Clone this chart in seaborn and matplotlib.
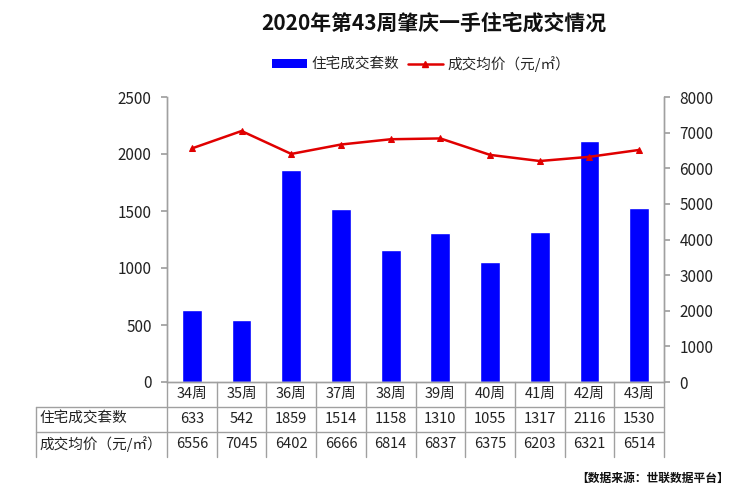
import numpy as np
import pandas as pd
import seaborn as sns
import matplotlib.pyplot as plt
import matplotlib.transforms as mtransforms
from matplotlib.patches import Patch
from matplotlib.lines import Line2D

weeks = ["34周", "35周", "36周", "37周", "38周", "39周", "40周", "41周", "42周", "43周"]
units = [633, 542, 1859, 1514, 1158, 1310, 1055, 1317, 2116, 1530]
prices = [6556, 7045, 6402, 6666, 6814, 6837, 6375, 6203, 6321, 6514]
row_labels = ["住宅成交套数", "成交均价（元/㎡）"]

sns.set_theme(style="white")
plt.rcParams['font.family'] = ['Noto Sans CJK SC', 'DejaVu Sans']

df = pd.DataFrame({"week": weeks, "units": units, "price": prices})
n = len(weeks)

fig = plt.figure(figsize=(7.41, 4.91), dpi=100)
W, H = 741, 491
ax = fig.add_axes([167 / W, 1 - 382 / H, (664 - 167) / W, (382 - 97) / H])

sns.barplot(data=df, x="week", y="units", color="#0000FF", saturation=1,
            width=0.4, ax=ax)
ax.set_ylim(0, 2500)
ax.set_xlim(-0.5, n - 0.5)
ax.set_yticks(range(0, 2501, 500))
ax.set_xlabel("")
ax.set_ylabel("")
ax.set_xticks(range(n))
ax.set_xticklabels([])
ax.tick_params(axis="x", length=0)
ax.tick_params(axis="y", left=True, length=4, color="#A0A0A0", labelsize=11,
               pad=7, labelcolor="#222222")

ax2 = ax.twinx()
sns.lineplot(x=np.arange(n), y=prices, ax=ax2, color="#E00000", lw=1.8,
             marker="^", markersize=5, markeredgecolor="#E00000")
ax2.set_ylim(0, 8000)
ax2.set_yticks(range(0, 8001, 1000))
ax2.set_xlim(-0.5, n - 0.5)
ax2.tick_params(axis="y", right=True, length=4, color="#A0A0A0", labelsize=11,
                pad=7, labelcolor="#222222")

for a in (ax, ax2):
    a.spines["top"].set_visible(False)
    for s in ["left", "right", "bottom"]:
        a.spines[s].set_color("#A0A0A0")
        a.spines[s].set_linewidth(1)

# data table below the axis
grid = "#A0A0A0"
blend = mtransforms.blended_transform_factory(ax.transData, ax.transAxes)
row_y = [-0.042, -0.13, -0.219]
line_y = [-0.0877, -0.1754]
bottom_y = -0.263
left_x = -0.2636

for i in range(n + 1):
    ax.plot([i - 0.5, i - 0.5], [0, bottom_y], transform=blend, color=grid,
            lw=1, clip_on=False)
for yy in line_y:
    ax.plot([left_x, 1], [yy, yy], transform=ax.transAxes, color=grid, lw=1,
            clip_on=False)
ax.plot([left_x, left_x], [line_y[0], bottom_y], transform=ax.transAxes,
        color=grid, lw=1, clip_on=False)

for i, w in enumerate(weeks):
    ax.text(i, row_y[0], w, transform=blend, ha="center", va="center",
            fontsize=10.5, color="#222222")
    ax.text(i, row_y[1], str(units[i]), transform=blend, ha="center",
            va="center", fontsize=10.5, color="#222222")
    ax.text(i, row_y[2], str(prices[i]), transform=blend, ha="center",
            va="center", fontsize=10.5, color="#222222")
for lab, yy in zip(row_labels, row_y[1:]):
    ax.text(left_x + 0.007, yy, lab, transform=ax.transAxes, ha="left",
            va="center", fontsize=10.5, color="#222222")

fig.text(434 / W, 1 - 23 / H, "2020年第43周肇庆一手住宅成交情况", ha="center",
         va="center", fontsize=15, fontweight="bold", color="#111111")

handles = [Patch(facecolor="#0000FF", edgecolor="none"),
           Line2D([0], [0], color="#E00000", lw=1.8, marker="^", markersize=5)]
fig.legend(handles, ["住宅成交套数", "成交均价（元/㎡）"], loc="center",
           bbox_to_anchor=(421 / W, 1 - 64 / H), ncol=2, frameon=False,
           fontsize=10.5, handlelength=2.4, handleheight=0.6, columnspacing=0.6,
           handletextpad=0.3)

fig.text(1 - 12 / W, 1 - 478 / H, "【数据来源：世联数据平台】", ha="right",
         va="center", fontsize=8.5, fontweight="bold", color="#111111")

fig.savefig("out.png", dpi=100)
